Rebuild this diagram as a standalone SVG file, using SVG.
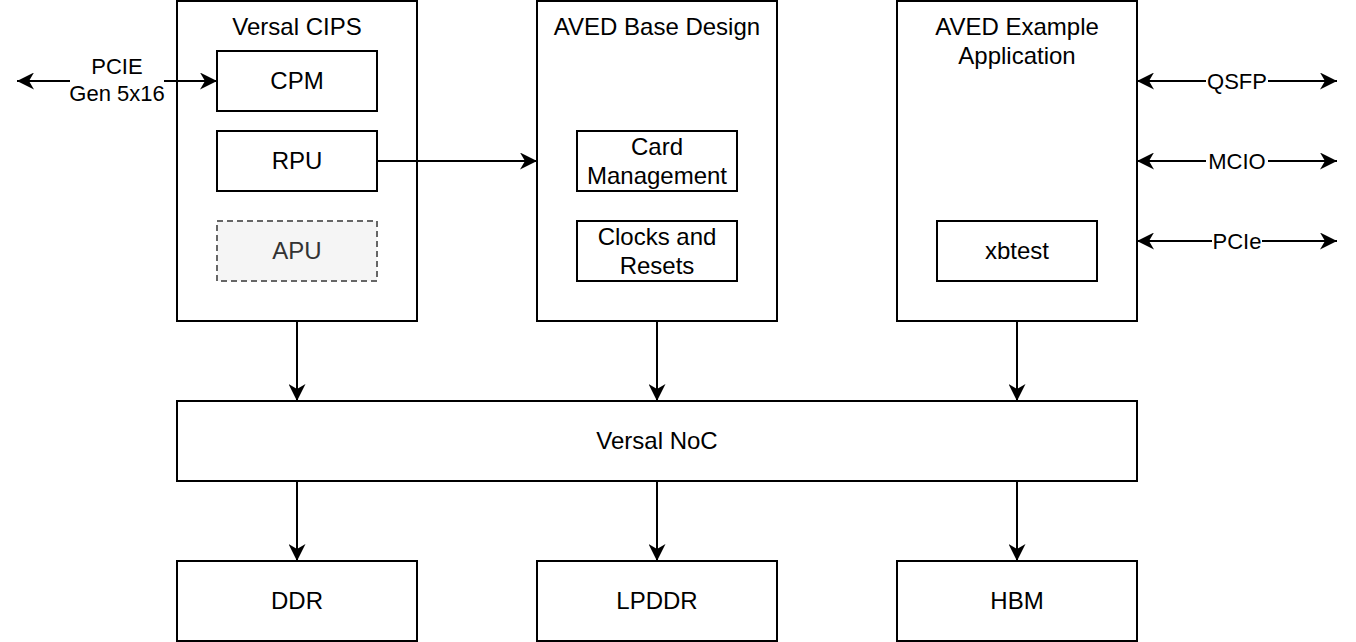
<svg xmlns="http://www.w3.org/2000/svg" width="1356" height="642" viewBox="0 0 1356 642">
<defs>
<style>
.box{fill:#fff;stroke:#000;stroke-width:2}
.apu{fill:#f5f5f5;stroke:#666;stroke-width:2;stroke-dasharray:6 4}
text{font-family:"Liberation Sans",Arial,sans-serif;font-size:24px;text-anchor:middle;fill:#000}
text.el{font-size:22px}
.grey{fill:#333}
.ln{fill:none;stroke:#000;stroke-width:2}
.lbl{fill:#fff;stroke:none}
</style>
<marker id="arr" markerUnits="userSpaceOnUse" viewBox="0 0 17 17" markerWidth="17" markerHeight="17" refX="17" refY="8.5" orient="auto-start-reverse">
<path d="M0,0 L17,8.5 L0,17 L5,8.5 z" fill="#000"/>
</marker>
</defs>
<rect width="1356" height="642" fill="#fff"/>
<g id="cips">
<rect class="box" x="177" y="1" width="240" height="320"/>
<text x="297" y="35">Versal CIPS</text>
</g>
<g id="base">
<rect class="box" x="537" y="1" width="240" height="320"/>
<text x="657" y="35">AVED Base Design</text>
</g>
<g id="example">
<rect class="box" x="897" y="1" width="240" height="320"/>
<text x="1017" y="35">AVED Example</text>
<text x="1017" y="64">Application</text>
</g>
<g id="connectors">
<path class="ln" d="M217,81 H17" marker-start="url(#arr)" marker-end="url(#arr)"/>
<rect class="lbl" x="70" y="55" width="94" height="52"/>
<text class="el" x="117" y="74">PCIE</text>
<text class="el" x="117" y="101">Gen 5x16</text>
<path class="ln" d="M377,161 H537" marker-end="url(#arr)"/>
<path class="ln" d="M297,321 V401" marker-end="url(#arr)"/>
<path class="ln" d="M657,321 V401" marker-end="url(#arr)"/>
<path class="ln" d="M1017,321 V401" marker-end="url(#arr)"/>
<path class="ln" d="M297,481 V561" marker-end="url(#arr)"/>
<path class="ln" d="M657,481 V561" marker-end="url(#arr)"/>
<path class="ln" d="M1017,481 V561" marker-end="url(#arr)"/>
<path class="ln" d="M1137,81 H1337" marker-start="url(#arr)" marker-end="url(#arr)"/>
<path class="ln" d="M1137,161 H1337" marker-start="url(#arr)" marker-end="url(#arr)"/>
<path class="ln" d="M1137,241 H1337" marker-start="url(#arr)" marker-end="url(#arr)"/>
<rect class="lbl" x="1206" y="68" width="62" height="26"/>
<text class="el" x="1237" y="89">QSFP</text>
<rect class="lbl" x="1206" y="148" width="62" height="26"/>
<text class="el" x="1237" y="169">MCIO</text>
<rect class="lbl" x="1212" y="228" width="50" height="26"/>
<text class="el" x="1237" y="249">PCIe</text>
</g>
<g id="cpm">
<rect class="box" x="217" y="51" width="160" height="60"/>
<text x="297" y="89">CPM</text>
</g>
<g id="rpu">
<rect class="box" x="217" y="131" width="160" height="60"/>
<text x="297" y="169">RPU</text>
</g>
<g id="apu">
<rect class="apu" x="217" y="221" width="160" height="60"/>
<text class="grey" x="297" y="259">APU</text>
</g>
<g id="cardmgmt">
<rect class="box" x="577" y="131" width="160" height="60"/>
<text x="657" y="155">Card</text>
<text x="657" y="184">Management</text>
</g>
<g id="clocks">
<rect class="box" x="577" y="221" width="160" height="60"/>
<text x="657" y="245">Clocks and</text>
<text x="657" y="274">Resets</text>
</g>
<g id="xbtest">
<rect class="box" x="937" y="221" width="160" height="60"/>
<text x="1017" y="259">xbtest</text>
</g>
<g id="noc">
<rect class="box" x="177" y="401" width="960" height="80"/>
<text x="657" y="449">Versal NoC</text>
</g>
<g id="ddr">
<rect class="box" x="177" y="561" width="240" height="80"/>
<text x="297" y="609">DDR</text>
</g>
<g id="lpddr">
<rect class="box" x="537" y="561" width="240" height="80"/>
<text x="657" y="609">LPDDR</text>
</g>
<g id="hbm">
<rect class="box" x="897" y="561" width="240" height="80"/>
<text x="1017" y="609">HBM</text>
</g>
</svg>
